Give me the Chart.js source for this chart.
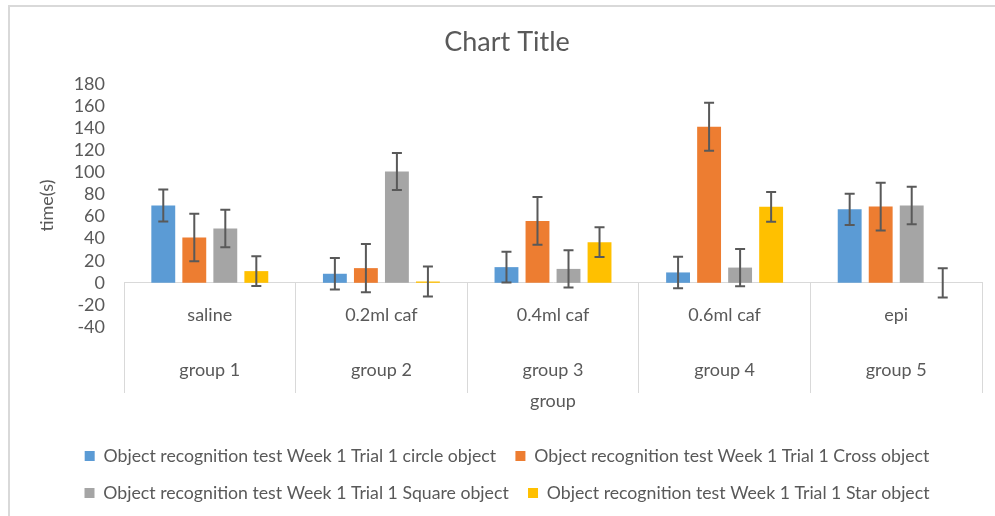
<!DOCTYPE html>
<html><head><meta charset="utf-8">
<script src="https://cdn.jsdelivr.net/npm/chart.js@4.4.1/dist/chart.umd.min.js"></script>
<style>html,body{margin:0;padding:0;background:#fff;}#wrap{width:995px;height:516px;}</style>
</head><body><div id="wrap"><canvas id="c" width="995" height="516"></canvas></div>
<script>
const treatments = ['saline', '0.2ml caf', '0.4ml caf', '0.6ml caf', 'epi'];
const groups = ['group 1', 'group 2', 'group 3', 'group 4', 'group 5'];
const seriesNames = [
  'Object recognition test Week 1 Trial 1 circle object',
  'Object recognition test Week 1 Trial 1 Cross object',
  'Object recognition test Week 1 Trial 1 Square object',
  'Object recognition test Week 1 Trial 1 Star object'
];
const circleValues = [70, 8.2, 14.2, 9.4, 66.5];
const circleErrors = [14.5, 14.3, 14, 14.3, 14.2];
const crossValues = [41, 13.3, 56, 141.3, 69];
const crossErrors = [21.5, 21.8, 21.6, 21.7, 21.6];
const squareValues = [49.2, 100.8, 12.6, 13.8, 70];
const squareErrors = [17, 16.7, 16.9, 16.9, 16.9];
const starValues = [10.6, 1.2, 36.8, 68.8, 0];
const starErrors = [13.5, 13.6, 13.4, 13.4, 13.3];
const yMin = -40, yMax = 180, yStep = 20;
const colors = ['#5B9BD5', '#ED7D31', '#A5A5A5', '#FFC000'];
const textColor = '#595959';
const FONT = 'Lato';

const values = [circleValues, crossValues, squareValues, starValues];
const errors = [circleErrors, crossErrors, squareErrors, starErrors];

const errorBars = {
  id: 'errorBars',
  afterDatasetsDraw(chart) {
    const ctx = chart.ctx, ys = chart.scales.y;
    ctx.save();
    ctx.strokeStyle = '#595959';
    ctx.lineWidth = 2;
    chart.data.datasets.forEach((ds, i) => {
      const meta = chart.getDatasetMeta(i);
      meta.data.forEach((bar, j) => {
        const v = ds.data[j], e = ds.errors[j];
        const yt = ys.getPixelForValue(v + e), yb = ys.getPixelForValue(v - e);
        const x = bar.x, hw = 5;
        ctx.beginPath();
        ctx.moveTo(x, yt); ctx.lineTo(x, yb);
        ctx.moveTo(x - hw, yt); ctx.lineTo(x + hw, yt);
        ctx.moveTo(x - hw, yb); ctx.lineTo(x + hw, yb);
        ctx.stroke();
      });
    });
    ctx.restore();
  }
};
const frame = {
  id: 'frame',
  beforeDraw(chart) {
    const c = chart.ctx;
    c.save();
    c.strokeStyle = '#d9d9d9';
    c.lineWidth = 2;
    c.strokeRect(9, 6, 1100, 700);
    c.restore();
  }
};

new Chart(document.getElementById('c'), {
  type: 'bar',
  data: {
    labels: treatments.map((t, i) => [t, groups[i]]),
    datasets: seriesNames.map((name, i) => ({
      label: name,
      data: values[i],
      errors: errors[i],
      backgroundColor: colors[i],
      borderWidth: 0,
      xAxisID: 'x',
      yAxisID: 'y',
      categoryPercentage: 0.723,
      barPercentage: 0.77
    }))
  },
  options: {
    responsive: false,
    animation: false,
    layout: { padding: { left: 32, right: 13, top: 0, bottom: 4.15 } },
    plugins: {
      title: { display: true, text: 'Chart Title', color: textColor,
        font: { family: FONT, size: 27, weight: 'normal' }, padding: { top: 25.8, bottom: 25.8 } },
      legend: { position: 'bottom',
        labels: { boxWidth: 10, boxHeight: 10, padding: 19.3, color: textColor, font: { family: FONT, size: 17.7 } } },
      tooltip: { enabled: false }
    },
    scales: {
      x: {
        type: 'category', position: { y: 0 }, offset: true,
        grid: { offset: true, drawOnChartArea: false, drawTicks: true, tickLength: 110, color: '#d9d9d9', lineWidth: 1 },
        border: { display: true, color: '#d9d9d9', width: 1 },
        ticks: { color: textColor, font: { family: FONT, size: 18, lineHeight: '55px' }, padding: -105.5, maxRotation: 0, autoSkip: false }
      },
      x2: {
        type: 'category', position: 'bottom',
        grid: { display: false, drawTicks: false }, border: { display: false },
        ticks: { display: false },
        title: { display: true, text: 'group', color: textColor, font: { family: FONT, size: 18 }, padding: { top: 0, bottom: 16.05 } },
        afterFit(s) { s.height = 100.85; }
      },
      y: {
        position: 'left', min: yMin, max: yMax,
        grid: { display: false, drawTicks: false }, border: { display: false },
        ticks: { stepSize: yStep, autoSkip: false, padding: 19, color: textColor, font: { family: FONT, size: 18 } },
        title: { display: true, text: 'time(s)', color: textColor, font: { family: FONT, size: 18 }, padding: { top: 4.2, bottom: 0 } },
        afterFit(s) { s.width = 92; }
      }
    }
  },
  plugins: [frame, errorBars]
});
</script>
</body></html>
